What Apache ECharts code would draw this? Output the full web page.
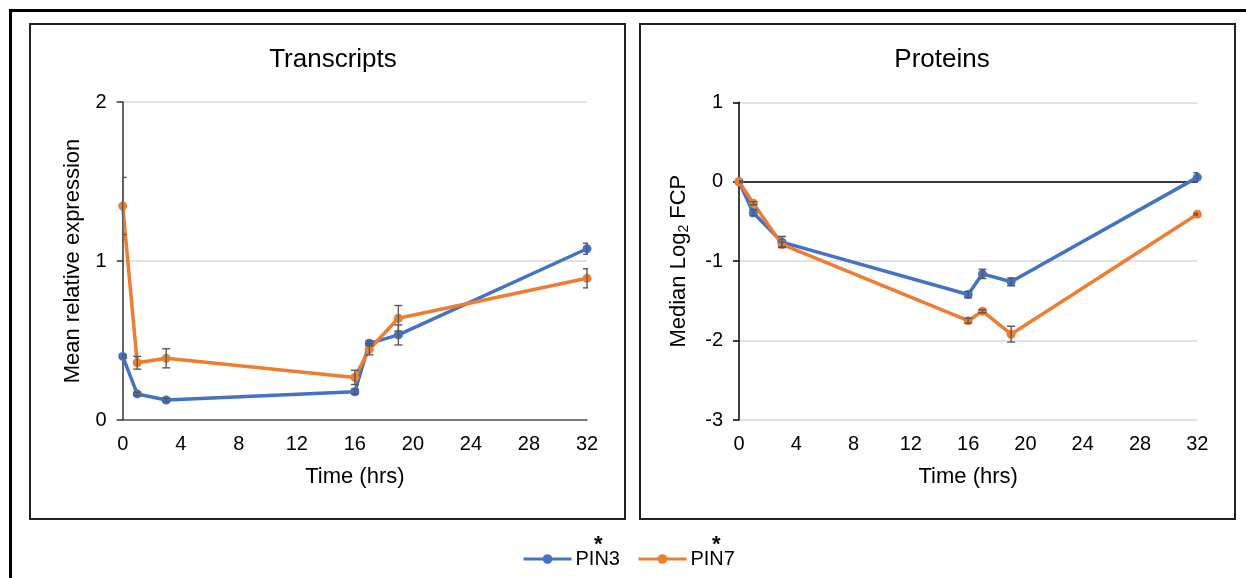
<!DOCTYPE html>
<html><head><meta charset="utf-8">
<script src="https://cdn.jsdelivr.net/npm/echarts@6/dist/echarts.min.js"></script>
<style>html,body{margin:0;padding:0;background:#fff}#c{width:1246px;height:578px}</style>
</head><body><div id="c"></div>
<script>
const hours = [0, 1, 3, 16, 17, 19, 32];
const pin3Trans = [0.40, 0.164, 0.126, 0.178, 0.482, 0.535, 1.077];
const pin3TransErr = [0.01, 0.01, 0.01, 0.015, 0.015, 0.063, 0.035];
const pin7Trans = [1.346, 0.36, 0.388, 0.268, 0.445, 0.64, 0.891];
const pin7TransErr = [0.18, 0.04, 0.06, 0.045, 0.035, 0.08, 0.06];
const pin3Prot = [0, -0.39, -0.76, -1.42, -1.16, -1.26, 0.055];
const pin3ProtErr = [0.01, 0.04, 0.07, 0.04, 0.06, 0.05, 0.06];
const pin7Prot = [0, -0.27, -0.79, -1.75, -1.63, -1.92, -0.41];
const pin7ProtErr = [0.01, 0.02, 0.03, 0.03, 0.02, 0.1, 0.01];
const xTicks = [0, 4, 8, 12, 16, 20, 24, 28, 32];
const seriesNames = ['PIN3', 'PIN7'];

const BLUE = '#4472C4', ORANGE = '#ED7D31';
const FONT = 'Liberation Sans, Arial, sans-serif';
const pts = (ys) => hours.map((h, i) => [h, ys[i]]);
const errPts = (ys, es) => hours.map((h, i) => [h, ys[i], es[i]]);

function errItem(params, api) {
  const x = api.value(0), y = api.value(1), e = api.value(2);
  const p1 = api.coord([x, y + e]), p2 = api.coord([x, y - e]);
  const w = 4;
  const st = { stroke: '#595959', lineWidth: 1.4 };
  return { type: 'group', children: [
    { type: 'line', shape: { x1: p1[0], y1: p1[1], x2: p2[0], y2: p2[1] }, style: st },
    { type: 'line', shape: { x1: p1[0] - w, y1: p1[1], x2: p1[0] + w, y2: p1[1] }, style: st },
    { type: 'line', shape: { x1: p2[0] - w, y1: p2[1], x2: p2[0] + w, y2: p2[1] }, style: st }
  ]};
}

const lineSeries = (name, ys, idx, color) => ({
  name, type: 'line', xAxisIndex: idx, yAxisIndex: idx, data: pts(ys),
  symbol: 'circle', symbolSize: 9, lineStyle: { width: 3.5, color }, itemStyle: { color },
  z: 3, animation: false
});
const errSeries = (ys, es, idx) => ({
  type: 'custom', xAxisIndex: idx, yAxisIndex: idx, data: errPts(ys, es),
  renderItem: errItem, z: 4, clip: true, silent: true, animation: false,
  encode: { x: 0, y: 1 }
});

const xAxisBase = (idx, gridIdx, showLine) => ({
  type: 'value', gridIndex: gridIdx, min: 0, max: 32, interval: 4,
  name: 'Time (hrs)', nameLocation: 'middle', nameGap: 46,
  nameTextStyle: { fontFamily: FONT, fontSize: 22, color: '#000' },
  axisLine: { show: showLine, onZero: false, lineStyle: { color: '#595959', width: 1.5 } },
  axisTick: { show: false },
  axisLabel: { fontFamily: FONT, fontSize: 20, color: '#000', margin: 14 },
  splitLine: { show: false }
});

const chart = echarts.init(document.getElementById('c'), null, { renderer: 'canvas' });
chart.setOption({
  backgroundColor: '#fff',
  animation: false,
  title: [
    { text: 'Transcripts', left: 328, top: 42, textAlign: 'center',
      textStyle: { fontFamily: FONT, fontSize: 26, fontWeight: 'normal', color: '#000' } },
    { text: 'Proteins', left: 937, top: 42, textAlign: 'center',
      textStyle: { fontFamily: FONT, fontSize: 26, fontWeight: 'normal', color: '#000' } }
  ],
  legend: {
    data: seriesNames, left: 517, top: 544, itemWidth: 48, itemHeight: 12, itemGap: 17,
    lineStyle: { width: 3 },
    textStyle: { fontFamily: FONT, fontSize: 20, color: '#000', padding: [0, 0, 0, -1] }
  },
  grid: [
    { left: 122.7, top: 102, width: 464.3, height: 318 },
    { left: 739, top: 102.3, width: 458.3, height: 317.7 }
  ],
  xAxis: [ xAxisBase(0, 0, true), xAxisBase(1, 1, false) ],
  yAxis: [
    { type: 'value', gridIndex: 0, min: 0, max: 2, interval: 1,
      name: 'Mean relative expression', nameLocation: 'middle', nameGap: 39,
      nameTextStyle: { fontFamily: FONT, fontSize: 22, color: '#000' },
      axisLine: { show: true, lineStyle: { color: '#333', width: 1.5 } },
      axisTick: { show: true, length: 6, lineStyle: { color: '#333', width: 1.5 } },
      axisLabel: { fontFamily: FONT, fontSize: 20, color: '#000', margin: 16 },
      splitLine: { show: true, lineStyle: { color: '#D9D9D9', width: 1.5 } } },
    { type: 'value', gridIndex: 1, min: -3, max: 1, interval: 1,
      name: 'Median Log{sub|2} FCP', nameLocation: 'middle', nameGap: 48,
      nameTextStyle: { fontFamily: FONT, fontSize: 22, color: '#000',
        rich: { sub: { fontFamily: FONT, fontSize: 14, color: '#000', verticalAlign: 'bottom', padding: [10, 0, 0, 0] } } },
      axisLine: { show: true, onZero: false, lineStyle: { color: '#000', width: 1.5 } },
      axisTick: { show: true, length: 6, lineStyle: { color: '#000', width: 1.5 } },
      axisLabel: { fontFamily: FONT, fontSize: 20, color: '#000', margin: 16 },
      splitLine: { show: true, lineStyle: { color: '#D9D9D9', width: 1.5 } } }
  ],
  series: [
    lineSeries('PIN3', pin3Trans, 0, BLUE),
    lineSeries('PIN7', pin7Trans, 0, ORANGE),
    Object.assign(lineSeries('PIN3', pin3Prot, 1, BLUE), {
      markLine: { silent: true, symbol: 'none', label: { show: false },
        lineStyle: { color: '#000', width: 1.5, type: 'solid' }, data: [{ yAxis: 0 }], z: 2 }
    }),
    lineSeries('PIN7', pin7Prot, 1, ORANGE),
    errSeries(pin3Trans, pin3TransErr, 0),
    errSeries(pin7Trans, pin7TransErr, 0),
    errSeries(pin3Prot, pin3ProtErr, 1),
    errSeries(pin7Prot, pin7ProtErr, 1)
  ],
  graphic: [
    { type: 'line', shape: { x1: 9, y1: 10.5, x2: 1246, y2: 10.5 }, style: { stroke: '#000', lineWidth: 3 }, silent: true },
    { type: 'line', shape: { x1: 10.5, y1: 9, x2: 10.5, y2: 578 }, style: { stroke: '#000', lineWidth: 3 }, silent: true },
    { type: 'rect', shape: { x: 30, y: 24, width: 595, height: 495 }, style: { fill: 'none', stroke: '#222', lineWidth: 2 }, silent: true, z: -1 },
    { type: 'rect', shape: { x: 640, y: 24, width: 595, height: 495 }, style: { fill: 'none', stroke: '#222', lineWidth: 2 }, silent: true, z: -1 },
    { type: 'text', left: 594, top: 534, style: { text: '*', font: 'bold 22px ' + FONT, fill: '#000' }, silent: true },
    { type: 'text', left: 712, top: 534, style: { text: '*', font: 'bold 22px ' + FONT, fill: '#000' }, silent: true }
  ]
});
</script>
</body></html>
